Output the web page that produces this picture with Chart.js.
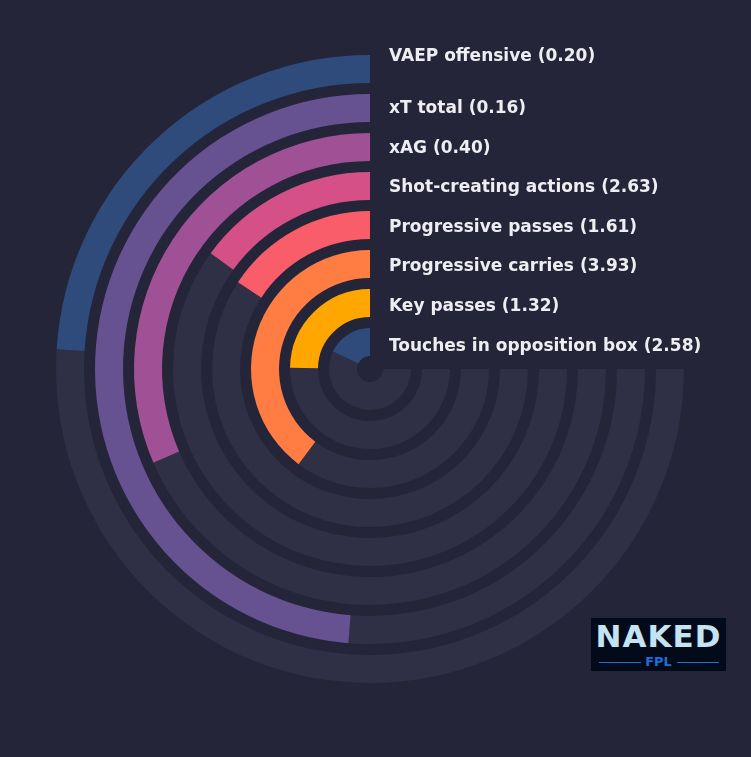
<!DOCTYPE html>
<html>
<head>
<meta charset="utf-8">
<script src="https://cdn.jsdelivr.net/npm/chart.js@4"></script>
<style>
  html, body { margin: 0; padding: 0; background: #25253a; }
  #wrap { position: relative; width: 751px; height: 757px; }
  #logo {
    position: absolute; left: 591px; top: 618px; width: 135px; height: 53px;
    background: #030a1a; font-family: "DejaVu Sans", sans-serif;
  }
  #logo .name {
    position: absolute; left: 0; top: 0; width: 135px; text-align: center;
    font-weight: bold; font-size: 31px; color: #c4e4f4; letter-spacing: 1px; line-height: 36px;
  }
  #logo .fpl {
    position: absolute; left: 0; top: 36px; width: 135px; text-align: center;
    font-weight: bold; font-size: 13px; color: #1d6fd8; line-height: 15px;
  }
  #logo .line { position: absolute; top: 44px; height: 1px; background: #1d6fd8; }
</style>
</head>
<body>
<div id="wrap">
  <canvas id="radial"></canvas>
  <div id="logo">
    <div class="name">NAKED</div>
    <div class="line" style="left:8px;width:42px"></div>
    <div class="fpl">FPL</div>
    <div class="line" style="left:86px;width:42px"></div>
  </div>
</div>
<script>
// outer ring first
const metrics = ["VAEP offensive", "xT total", "xAG", "Shot-creating actions",
  "Progressive passes", "Progressive carries", "Key passes", "Touches in opposition box"];
const values = [0.20, 0.16, 0.40, 2.63, 1.61, 3.93, 1.32, 2.58];
const percentiles = [32, 65, 42, 20, 21, 53, 33, 24];
const barColors = ["#2f4b7c", "#665191", "#a05195", "#d45087", "#f95d6a", "#ff7c43", "#ffa600", "#2f4b7c"];

const trackColor = "#2f2f45";
const ringWeight = 28;
const gapWeight = 11;

const datasets = [];
metrics.forEach((m, i) => {
  if (i > 0) {
    datasets.push({ data: [1], backgroundColor: ["rgba(0,0,0,0)"], weight: gapWeight, gap: true });
  }
  datasets.push({
    label: m,
    data: [100 - percentiles[i], percentiles[i]],
    backgroundColor: [trackColor, barColors[i]],
    weight: ringWeight,
  });
});

const ringLabels = {
  id: "ringLabels",
  afterDatasetsDraw(chart) {
    const ctx = chart.ctx;
    ctx.save();
    ctx.font = "bold 17px 'DejaVu Sans'";
    ctx.fillStyle = "#eeeef2";
    ctx.textBaseline = "middle";
    let k = 0;
    chart.data.datasets.forEach((ds, di) => {
      if (ds.gap) return;
      const arc = chart.getDatasetMeta(di).data[1];
      let y = arc.y - (arc.innerRadius + arc.outerRadius) / 2 + k * 0.6;
      if (k === 0) y -= 12;
      ctx.fillText(metrics[k] + " (" + values[k].toFixed(2) + ")", arc.x + 19, y);
      k++;
    });
    ctx.restore();
  }
};

new Chart(document.getElementById("radial"), {
  type: "doughnut",
  data: { labels: ["rest", "value"], datasets: datasets },
  options: {
    responsive: true,
    maintainAspectRatio: false,
    animation: false,
    events: [],
    rotation: 90,
    circumference: 270,
    cutout: 13,
    borderWidth: 0,
    hoverOffset: 0,
    layout: { padding: { left: 56, right: 67, top: 55, bottom: 74 } },
    plugins: { legend: { display: false }, tooltip: { enabled: false } },
  },
  plugins: [ringLabels],
});
</script>
</body>
</html>
